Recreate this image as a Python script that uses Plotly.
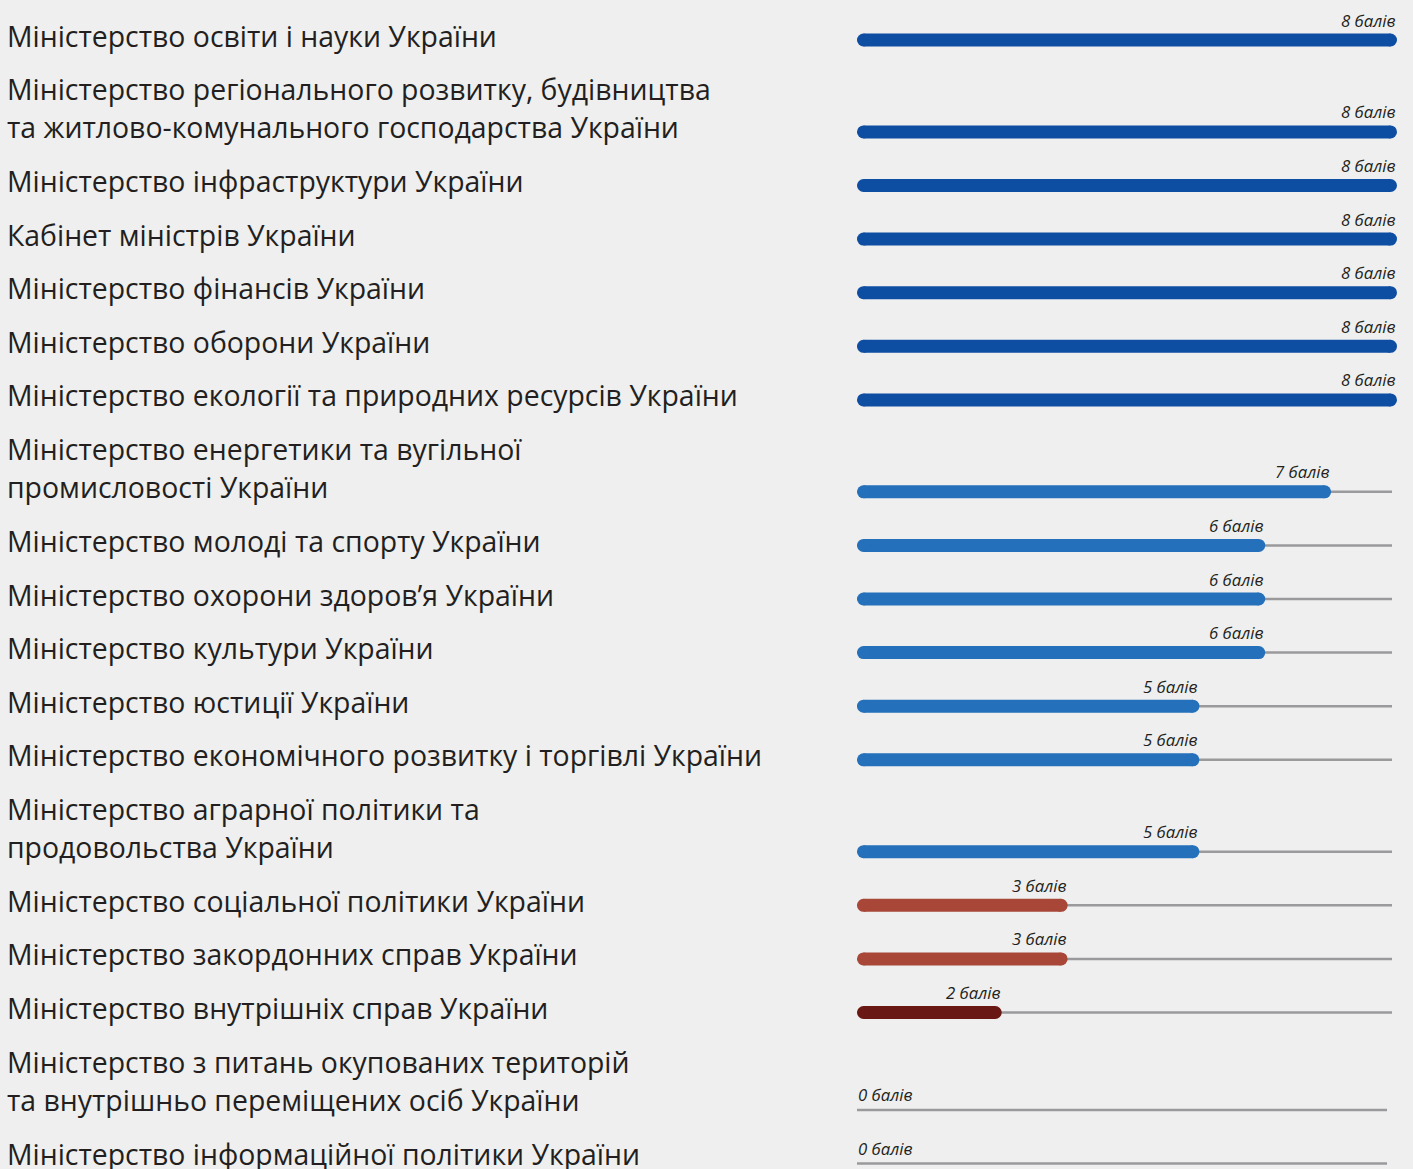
import plotly.graph_objects as go

labels = [
    ["Міністерство освіти і науки України"],
    ["Міністерство регіонального розвитку, будівництва", "та житлово-комунального господарства України"],
    ["Міністерство інфраструктури України"],
    ["Кабінет міністрів України"],
    ["Міністерство фінансів України"],
    ["Міністерство оборони України"],
    ["Міністерство екології та природних ресурсів України"],
    ["Міністерство енергетики та вугільної", "промисловості України"],
    ["Міністерство молоді та спорту України"],
    ["Міністерство охорони здоров’я України"],
    ["Міністерство культури України"],
    ["Міністерство юстиції України"],
    ["Міністерство економічного розвитку і торгівлі України"],
    ["Міністерство аграрної політики та", "продовольства України"],
    ["Міністерство соціальної політики України"],
    ["Міністерство закордонних справ України"],
    ["Міністерство внутрішніх справ України"],
    ["Міністерство з питань окупованих територій", "та внутрішньо переміщених осіб України"],
    ["Міністерство інформаційної політики України"],
]
scores = [8, 8, 8, 8, 8, 8, 8, 7, 6, 6, 6, 5, 5, 5, 3, 3, 2, 0, 0]
max_score = 8

COLORS = {8: "#0e4ea2", 7: "#2470ba", 6: "#2470ba", 5: "#2470ba",
          4: "#a84737", 3: "#a84737", 2: "#6a1813", 1: "#6a1813"}

W, H = 1413, 1169
BG = "#efefef"
TXT = "#231f20"
GRAY = "#9a9a9c"
FONT = "Open Sans"

# layout geometry (pixels)
PITCH, EXTRA = 53.6, 38.3
BAR_W = 13
px0, px8 = 863.5, 1390.5
ppu = (px8 - px0) / max_score
xr0 = -px0 / ppu
xr1 = xr0 + W / ppu

ybars = []
y = 40.0
for i, lab in enumerate(labels):
    if i > 0:
        y += PITCH + EXTRA * (len(lab) - 1)
    ybars.append(y)

fig = go.Figure()
annotations = []
shapes = []
for lab, s, yb in zip(labels, scores, ybars):
    n = len(lab)
    for j, line in enumerate(lab):
        annotations.append(dict(
            x=5 / W, xref="paper", y=yb - 4.5 - (n - 1 - j) * EXTRA, yref="y",
            text=line, showarrow=False, xanchor="left", yanchor="middle",
            font=dict(family=FONT, size=28.4, color=TXT)))
    if s > 0:
        shapes.append(dict(type="line", xref="x", yref="y", layer="below",
                           x0=-6.5 / ppu, x1=(1392 - px0) / ppu, y0=yb, y1=yb,
                           line=dict(color=GRAY, width=2.5)))
        fig.add_trace(go.Scatter(
            x=[0, s], y=[yb, yb], mode="lines+markers", hoverinfo="skip",
            line=dict(color=COLORS[s], width=BAR_W),
            marker=dict(color=COLORS[s], size=BAR_W, line=dict(width=0)),
            showlegend=False))
        annotations.append(dict(
            x=s, xref="x", y=yb - 20, yref="y", xshift=BAR_W / 2 + 1, text=f"<i>{s} балів</i>",
            showarrow=False, xanchor="right", yanchor="middle",
            font=dict(family=FONT, size=16.8, color=TXT)))
    else:
        ty = yb + 5.5
        shapes.append(dict(type="line", xref="x", yref="y", layer="below",
                           x0=-6.5 / ppu, x1=(1387 - px0) / ppu, y0=ty, y1=ty,
                           line=dict(color=GRAY, width=2.5)))
        annotations.append(dict(
            x=s, xref="x", y=yb - 9.5, yref="y", xshift=-BAR_W / 2 - 1, text=f"<i>{s} балів</i>",
            showarrow=False, xanchor="left", yanchor="middle",
            font=dict(family=FONT, size=16.8, color=TXT)))

fig.update_layout(
    width=W, height=H, margin=dict(l=0, r=0, t=0, b=0),
    paper_bgcolor=BG, plot_bgcolor=BG,
    xaxis=dict(range=[xr0, xr1], visible=False, fixedrange=True),
    yaxis=dict(range=[H, 0], visible=False, fixedrange=True),
    annotations=annotations, shapes=shapes,
)
fig.write_html(
    "out.html",
    config={"displayModeBar": False},
    post_script="document.body.style.margin='0';document.body.style.background='#efefef';document.body.style.overflow='hidden';",
)
